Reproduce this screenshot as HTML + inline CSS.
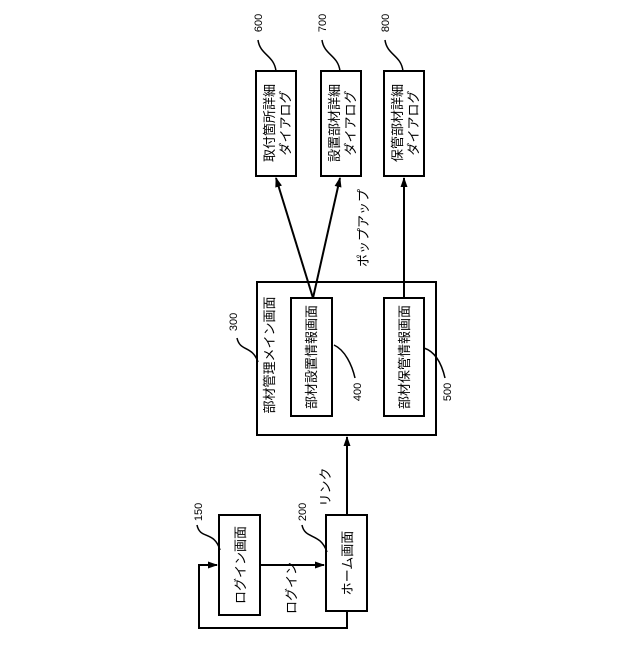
<!DOCTYPE html>
<html><head><meta charset="utf-8"><style>html,body{margin:0;padding:0;background:#fff}</style></head>
<body>
<svg width="640" height="640" viewBox="0 0 640 640" xmlns="http://www.w3.org/2000/svg" font-family="'Liberation Sans','Noto Sans CJK JP',sans-serif">
<defs>
<marker id="a" markerWidth="10" markerHeight="10" refX="9" refY="5" orient="auto" markerUnits="userSpaceOnUse"><path d="M0,1.5 L10,5 L0,8.5 Z" fill="#000"/></marker>
</defs>
<g fill="none" stroke="#000" stroke-width="2">
<rect x="219" y="515" width="41" height="100"/>
<rect x="326" y="515" width="41" height="96"/>
<rect x="257" y="282" width="179" height="153"/>
<rect x="291" y="298" width="41" height="118"/>
<rect x="384" y="298" width="40" height="118"/>
<rect x="256" y="71" width="40" height="105"/>
<rect x="321" y="71" width="40" height="105"/>
<rect x="384" y="71" width="40" height="105"/>
<line x1="260" y1="565" x2="324" y2="565" marker-end="url(#a)"/>
<line x1="347" y1="515" x2="347" y2="437" marker-end="url(#a)"/>
<polyline points="347,611 347,628 199,628 199,565 217,565" marker-end="url(#a)"/>
<line x1="313" y1="298" x2="276" y2="178" marker-end="url(#a)"/>
<line x1="313" y1="298" x2="340" y2="178" marker-end="url(#a)"/>
<line x1="404" y1="298" x2="404" y2="178" marker-end="url(#a)"/>
</g>
<g fill="none" stroke="#000" stroke-width="1.5">
<path d="M197,525 C200,540 214,530 220,550"/>
<path d="M302,525 C305,540 320,532 327,552"/>
<path d="M237,338 C240,352 252,345 258,362"/>
<path d="M334,345 C345,350 352,365 355,378"/>
<path d="M424,348 C436,352 442,365 445,378"/>
<path d="M258,40 C260,55 274,55 276,71"/>
<path d="M322,40 C324,55 338,55 340,71"/>
<path d="M385,40 C387,55 401,55 403,71"/>
</g>
<g font-size="13" fill="#000">
<text transform="translate(245,565) rotate(-90)" text-anchor="middle">ログイン画面</text>
<text transform="translate(352,563) rotate(-90)" text-anchor="middle">ホーム画面</text>
<text transform="translate(274,355) rotate(-90)" text-anchor="middle">部材管理メイン画面</text>
<text transform="translate(316,357) rotate(-90)" text-anchor="middle">部材設置情報画面</text>
<text transform="translate(409,357) rotate(-90)" text-anchor="middle">部材保管情報画面</text>
<text transform="translate(274,123) rotate(-90)" text-anchor="middle">取付箇所詳細</text>
<text transform="translate(290,123) rotate(-90)" text-anchor="middle">ダイアログ</text>
<text transform="translate(339,123) rotate(-90)" text-anchor="middle">設置部材詳細</text>
<text transform="translate(355,123) rotate(-90)" text-anchor="middle">ダイアログ</text>
<text transform="translate(402,123) rotate(-90)" text-anchor="middle">保管部材詳細</text>
<text transform="translate(418,123) rotate(-90)" text-anchor="middle">ダイアログ</text>
<text transform="translate(296,588) rotate(-90)" text-anchor="middle">ログイン</text>
<text transform="translate(330,487) rotate(-90)" text-anchor="middle">リンク</text>
<text transform="translate(368,228) rotate(-90)" text-anchor="middle">ポップアップ</text>
</g>
<g font-size="11" fill="#000">
<text transform="translate(202,512) rotate(-90)" text-anchor="middle">150</text>
<text transform="translate(306,512) rotate(-90)" text-anchor="middle">200</text>
<text transform="translate(237,322) rotate(-90)" text-anchor="middle">300</text>
<text transform="translate(361,392) rotate(-90)" text-anchor="middle">400</text>
<text transform="translate(451,392) rotate(-90)" text-anchor="middle">500</text>
<text transform="translate(262,23) rotate(-90)" text-anchor="middle">600</text>
<text transform="translate(326,23) rotate(-90)" text-anchor="middle">700</text>
<text transform="translate(389,23) rotate(-90)" text-anchor="middle">800</text>
</g>
</svg>
</body></html>
